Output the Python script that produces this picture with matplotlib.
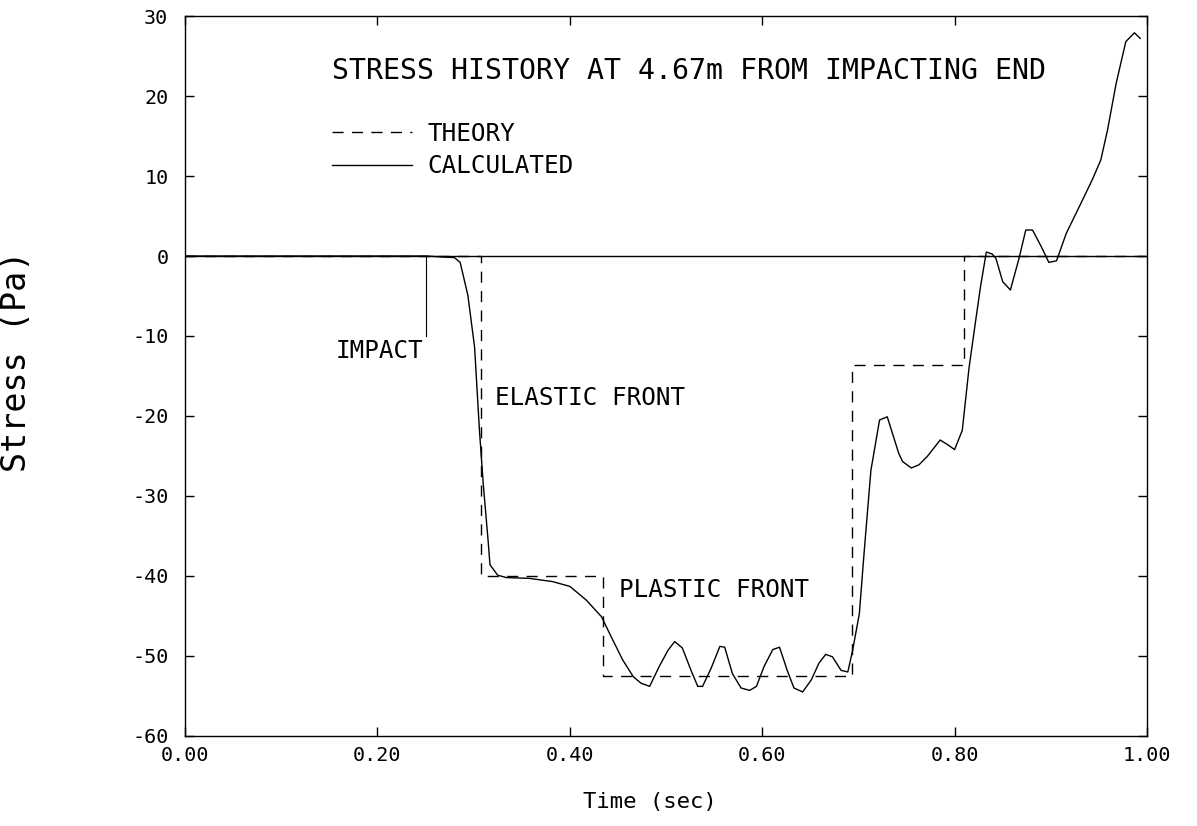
import matplotlib
matplotlib.use('Agg')
from matplotlib import pyplot as plt

# Theory: stepped stress history
theory_t = [0.0, 0.308, 0.308, 0.434, 0.434, 0.693, 0.693, 0.810, 0.810, 1.0]
theory_s = [0.0, 0.0, -40.0, -40.0, -52.5, -52.5, -13.6, -13.6, 0.0, 0.0]

# Calculated stress
calc_t = [0.000, 0.250, 0.280, 0.286, 0.294, 0.301, 0.306, 0.310, 0.315, 0.317,
          0.325, 0.334, 0.358, 0.382, 0.400, 0.417, 0.433, 0.443, 0.455, 0.466,
          0.474, 0.483, 0.493, 0.502, 0.509, 0.517, 0.526, 0.533, 0.538, 0.547,
          0.556, 0.561, 0.569, 0.578, 0.587, 0.594, 0.602, 0.611, 0.618, 0.626,
          0.633, 0.642, 0.651, 0.659, 0.666, 0.673, 0.682, 0.689, 0.694, 0.701,
          0.706, 0.713, 0.722, 0.730, 0.742, 0.746, 0.755, 0.763, 0.772, 0.785,
          0.793, 0.800, 0.808, 0.815, 0.822, 0.827, 0.833, 0.839, 0.843, 0.850,
          0.858, 0.867, 0.874, 0.881, 0.890, 0.898, 0.906, 0.916, 0.933, 0.943,
          0.952, 0.959, 0.968, 0.978, 0.987, 0.993]
calc_s = [0.0, 0.0, -0.2, -0.8, -4.9, -11.4, -21.7, -28.5, -35.5, -38.6,
          -39.9, -40.2, -40.3, -40.7, -41.3, -43.0, -45.1, -47.6, -50.5, -52.6,
          -53.4, -53.8, -51.3, -49.3, -48.2, -49.0, -51.8, -53.8, -53.8, -51.5,
          -48.8, -48.9, -52.2, -54.0, -54.3, -53.8, -51.3, -49.2, -48.9, -51.8,
          -54.0, -54.5, -53.0, -50.9, -49.8, -50.1, -51.8, -52.0, -49.3, -44.7,
          -37.0, -26.8, -20.5, -20.1, -24.7, -25.7, -26.5, -26.1, -25.0, -23.0,
          -23.6, -24.2, -21.8, -14.0, -8.0, -3.8, 0.5, 0.25, -0.3, -3.2,
          -4.25, -0.3, 3.25, 3.25, 1.2, -0.8, -0.6, 2.8, 7.0, 9.5,
          12.0, 15.75, 21.6, 26.8, 27.9, 27.2]

impact_t = 0.25
impact_mark = -10.0

x_ticks = [0.0, 0.2, 0.4, 0.6, 0.8, 1.0]
y_ticks = [-60, -50, -40, -30, -20, -10, 0, 10, 20, 30]

mono = 'DejaVu Sans Mono'

fig = plt.figure(figsize=(11.97, 8.26), dpi=100)
ax = fig.add_axes([0.1546, 0.109, 0.8036, 0.8716])

# zero line across the whole plot
ax.axhline(0, color='k', lw=1.0)

ax.plot(theory_t, theory_s, color='k', lw=1.0, dashes=(8, 6), label='THEORY')
ax.plot(calc_t, calc_s, color='k', lw=1.0, label='CALCULATED')

# impact marker
ax.plot([impact_t, impact_t], [0, impact_mark], color='k', lw=0.8)

ax.text(0.153, 23.1, 'STRESS HISTORY AT 4.67m FROM IMPACTING END',
        family=mono, fontsize=20.3, va='center', ha='left')
ax.text(0.248, -11.9, 'IMPACT', family=mono, fontsize=17.5, va='center', ha='right')
ax.text(0.322, -17.75, 'ELASTIC FRONT', family=mono, fontsize=17.5, va='center', ha='left')
ax.text(0.451, -41.75, 'PLASTIC FRONT', family=mono, fontsize=17.5, va='center', ha='left')

ax.legend(loc='upper left', bbox_to_anchor=(0.153, 0.853), frameon=False,
          borderaxespad=0, borderpad=0, handlelength=3.3, handletextpad=0.6,
          labelspacing=0.35, prop={'family': mono, 'size': 17.5})

ax.set_xlim(0, 1)
ax.set_ylim(-60, 30)
ax.set_xticks(x_ticks)
ax.set_yticks(y_ticks)
ax.set_xticklabels(['%.2f' % t for t in x_ticks], family=mono, fontsize=14.5)
ax.set_yticklabels([str(v) for v in y_ticks], family=mono, fontsize=14.5)
ax.tick_params(direction='in', length=6.5, width=1.0, top=True, right=True)
ax.tick_params(axis='y', pad=12)
ax.tick_params(axis='x', pad=7)
for sp in ax.spines.values():
    sp.set_linewidth(1.0)

ax.set_xlabel('Time (sec)', family=mono, fontsize=16)
ax.set_ylabel('Stress (Pa)', family=mono, fontsize=24)
ax.xaxis.set_label_coords(0.483, -0.078)
ax.yaxis.set_label_coords(-0.158, 0.52)

fig.savefig('out.png', dpi=100)
